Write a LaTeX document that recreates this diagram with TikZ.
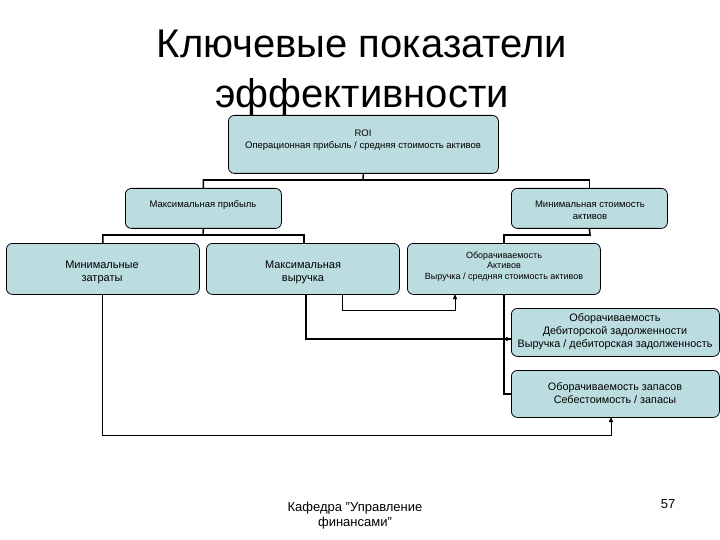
\documentclass[tikz,border=0pt]{standalone}
\usepackage{fontspec}
\setmainfont{Liberation Sans}
\usetikzlibrary{arrows.meta}
\definecolor{boxfill}{HTML}{BCDDE0}
\begin{document}
\begin{tikzpicture}[x=1pt,y=-1pt,
  bx/.style={draw=black,fill=boxfill,rounded corners=6pt,line width=0.8pt,align=center,inner sep=0pt},
  ln/.style={line width=1.6pt},
  thin/.style={line width=1pt},
  arr/.style={-{Triangle[length=5pt,width=4pt]}}]
\useasboundingbox (0,0) rectangle (720,540);
\node[font=\fontsize{40}{50}\selectfont,align=center] (title) at (362,73) {Ключевые показатели\\эффективности};
\node[bx,minimum width=270pt,minimum height=58pt,anchor=north west] (roi) at (228,115) {};
\node[font=\fontsize{9.5}{12}\selectfont,align=center,anchor=north] (roit) at (363,126) {ROI\\Операционная прибыль / средняя стоимость активов};
\node[bx,minimum width=156pt,minimum height=40pt,anchor=north west] (mp) at (125,188) {};
\node[font=\fontsize{9.5}{12}\selectfont,anchor=north] (mpt) at (203,197) {Максимальная прибыль};
\node[bx,minimum width=156pt,minimum height=40pt,anchor=north west] (ma) at (511,188) {};
\node[font=\fontsize{9.5}{12.5}\selectfont,align=center,anchor=north] (mat) at (590,197) {Минимальная стоимость\\активов};
\node[bx,minimum width=193pt,minimum height=51pt,anchor=north west] (mc) at (6,243) {};
\node[font=\fontsize{11}{13}\selectfont,align=center,anchor=north] (mct) at (102,257) {Минимальные\\затраты};
\node[bx,minimum width=193pt,minimum height=51pt,anchor=north west] (mr) at (206,243) {};
\node[font=\fontsize{11}{13}\selectfont,align=center,anchor=north] (mrt) at (303,257) {Максимальная\\выручка};
\node[bx,minimum width=193pt,minimum height=51pt,anchor=north west] (ta) at (407,243) {};
\node[font=\fontsize{9}{10.5}\selectfont,align=center,anchor=north] (tat) at (504,248) {Оборачиваемость\\Активов\\Выручка / средняя стоимость активов};
\node[bx,minimum width=208pt,minimum height=48pt,anchor=north west] (rc) at (511,308) {};
\node[font=\fontsize{10.8}{13}\selectfont,align=center] (rct) at (615,332) {Оборачиваемость\\Дебиторской задолженности\\Выручка / дебиторская задолженность};
\node[bx,minimum width=208pt,minimum height=47pt,anchor=north west] (inv) at (511,370) {};
\node[font=\fontsize{10.8}{13.5}\selectfont,align=center] (invt) at (615,393) {Оборачиваемость запасов\\Себестоимость / запасы};
\node[font=\fontsize{13}{15}\selectfont,align=center] (foot) at (355,516) {Кафедра \char34Управление\\финансами\char34};
\node[font=\fontsize{13}{15}\selectfont] (num) at (668,504) {57};
% tree connectors
\draw[ln] (roi.south) -- (363,180) -| (mp.north);
\draw[ln] (363,180) -| (ma.north);
\draw[ln] (mp.south) -- (203,235) -| (mc.north);
\draw[ln] (203,235) -| (304,243);
\draw[ln] (ma.south) -- (590,235) -| (504,243);
\coordinate (tb) at (504,294);
\draw[ln] (tb) |- (inv.west);
\draw[ln] (504,339) -- (rc.west |- 0,339);
% arrows
\coordinate (r1) at (306,294);
\draw[ln,arr] (r1) |- (rc.west |- 0,339);
\coordinate (r2) at (342,294);
\draw[thin,arr] (r2) -- (342,310) -| (455,294);
\coordinate (c1) at (102,294);
\draw[thin,arr] (c1) -- (102,435) -| (611,417);
\end{tikzpicture}
\end{document}
